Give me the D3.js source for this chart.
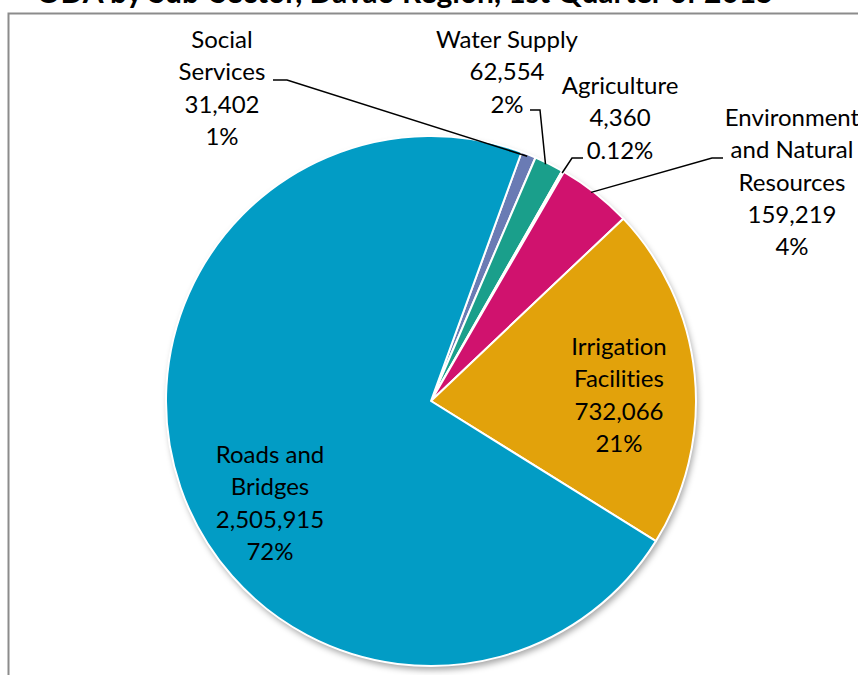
<!DOCTYPE html>
<html>
<head>
<meta charset="utf-8">
<script src="https://cdn.jsdelivr.net/npm/d3@7"></script>
<style>
  html, body { margin: 0; padding: 0; background: #fff; }
  svg { display: block; }
  text { font-family: Lato, "Open Sans", "DejaVu Sans", sans-serif; fill: #000;
         font-variant-ligatures: none; font-feature-settings: "liga" 0; }
</style>
</head>
<body>
<svg id="chart" width="858" height="675"></svg>
<script>
// Sub-sector shares, listed clockwise from the first slice
const sectors = ["Social Services", "Water Supply", "Agriculture",
                 "Environment and Natural Resources", "Irrigation Facilities", "Roads and Bridges"];
const amounts = [31402, 62554, 4360, 159219, 732066, 2505915];
const percentLabels = ["1%", "2%", "0.12%", "4%", "21%", "72%"];
const labelLines = [["Social", "Services"], ["Water Supply"], ["Agriculture"],
                    ["Environment", "and Natural", "Resources"], ["Irrigation", "Facilities"], ["Roads and", "Bridges"]];
const colors = ["#6a7bb4", "#1a9f8b", "#8dbf3f", "#d0126e", "#e2a20b", "#029cc5"];
const titleText = "ODA by Sub-Sector, Davao Region, 1st Quarter of 2015";

const svg = d3.select("#chart");
const fmt = d3.format(",");

// Chart frame (extends past the right and bottom edges)
svg.append("rect")
  .attr("x", 8.5).attr("y", 13.5).attr("width", 900).attr("height", 700)
  .attr("fill", "#fff").attr("stroke", "#8c8c8c").attr("stroke-width", 2);

// Title, mostly clipped above the frame
svg.append("text")
  .attr("x", 405).attr("y", 3)
  .attr("text-anchor", "middle")
  .style("font-weight", "bold").style("font-size", "30px")
  .text(titleText);

const defs = svg.append("defs");
const shadow = defs.append("filter").attr("id", "shadow")
  .attr("x", "-10%").attr("y", "-10%").attr("width", "120%").attr("height", "120%");
shadow.append("feDropShadow")
  .attr("dx", 2).attr("dy", 4).attr("stdDeviation", 3)
  .attr("flood-color", "#000").attr("flood-opacity", 0.35);

const cx = 431, cy = 401, R = 265;
const startDeg = 20;

const pie = d3.pie().sort(null).value(d => d)
  .startAngle(startDeg * Math.PI / 180)
  .endAngle((startDeg + 360) * Math.PI / 180);
const arcs = pie(amounts);
const arc = d3.arc().innerRadius(0).outerRadius(R);

const g = svg.append("g").attr("transform", `translate(${cx},${cy})`);

g.append("circle").attr("r", R).attr("fill", "#fff").attr("filter", "url(#shadow)");

g.selectAll("path.slice").data(arcs).enter().append("path")
  .attr("class", "slice")
  .attr("d", arc)
  .attr("fill", (d, i) => colors[i])
  .attr("stroke", "#fff").attr("stroke-width", 2).attr("stroke-linejoin", "round");

// Label placement: [anchor x, first line y] in page coordinates
const labelPos = [
  [222, 48], [507, 48], [620, 94], [792, 126], [619, 355], [270, 463]
];
const lineH = 32.3;

sectors.forEach((s, i) => {
  const lines = labelLines[i].concat([fmt(amounts[i]), percentLabels[i]]);
  const t = svg.append("text")
    .attr("text-anchor", "middle")
    .style("font-size", "24px");
  lines.forEach((ln, k) => {
    t.append("tspan").attr("x", labelPos[i][0]).attr("y", labelPos[i][1] + k * lineH).text(ln);
  });
});

// Leader lines for the outside labels: elbow start then a point on the slice rim
const leaderRadius = R - 2;
function rimPoint(i, frac) {
  const a = arcs[i].startAngle + (arcs[i].endAngle - arcs[i].startAngle) * frac;
  return [cx + Math.sin(a) * leaderRadius, cy - Math.cos(a) * leaderRadius];
}
const leaders = [
  { i: 0, from: [[273, 80], [287, 80]], frac: 0.45 },
  { i: 1, from: [[530, 110], [540, 110]], frac: 0.4 },
  { i: 2, from: [[583, 158], [572, 158]], frac: 0.5 },
  { i: 3, from: [[723, 158], [712, 158]], frac: 0.45 }
];
leaders.forEach(l => {
  const pts = l.from.concat([rimPoint(l.i, l.frac)]);
  svg.append("path")
    .attr("d", d3.line()(pts))
    .attr("fill", "none").attr("stroke", "#000").attr("stroke-width", 1.5);
});
</script>
</body>
</html>
